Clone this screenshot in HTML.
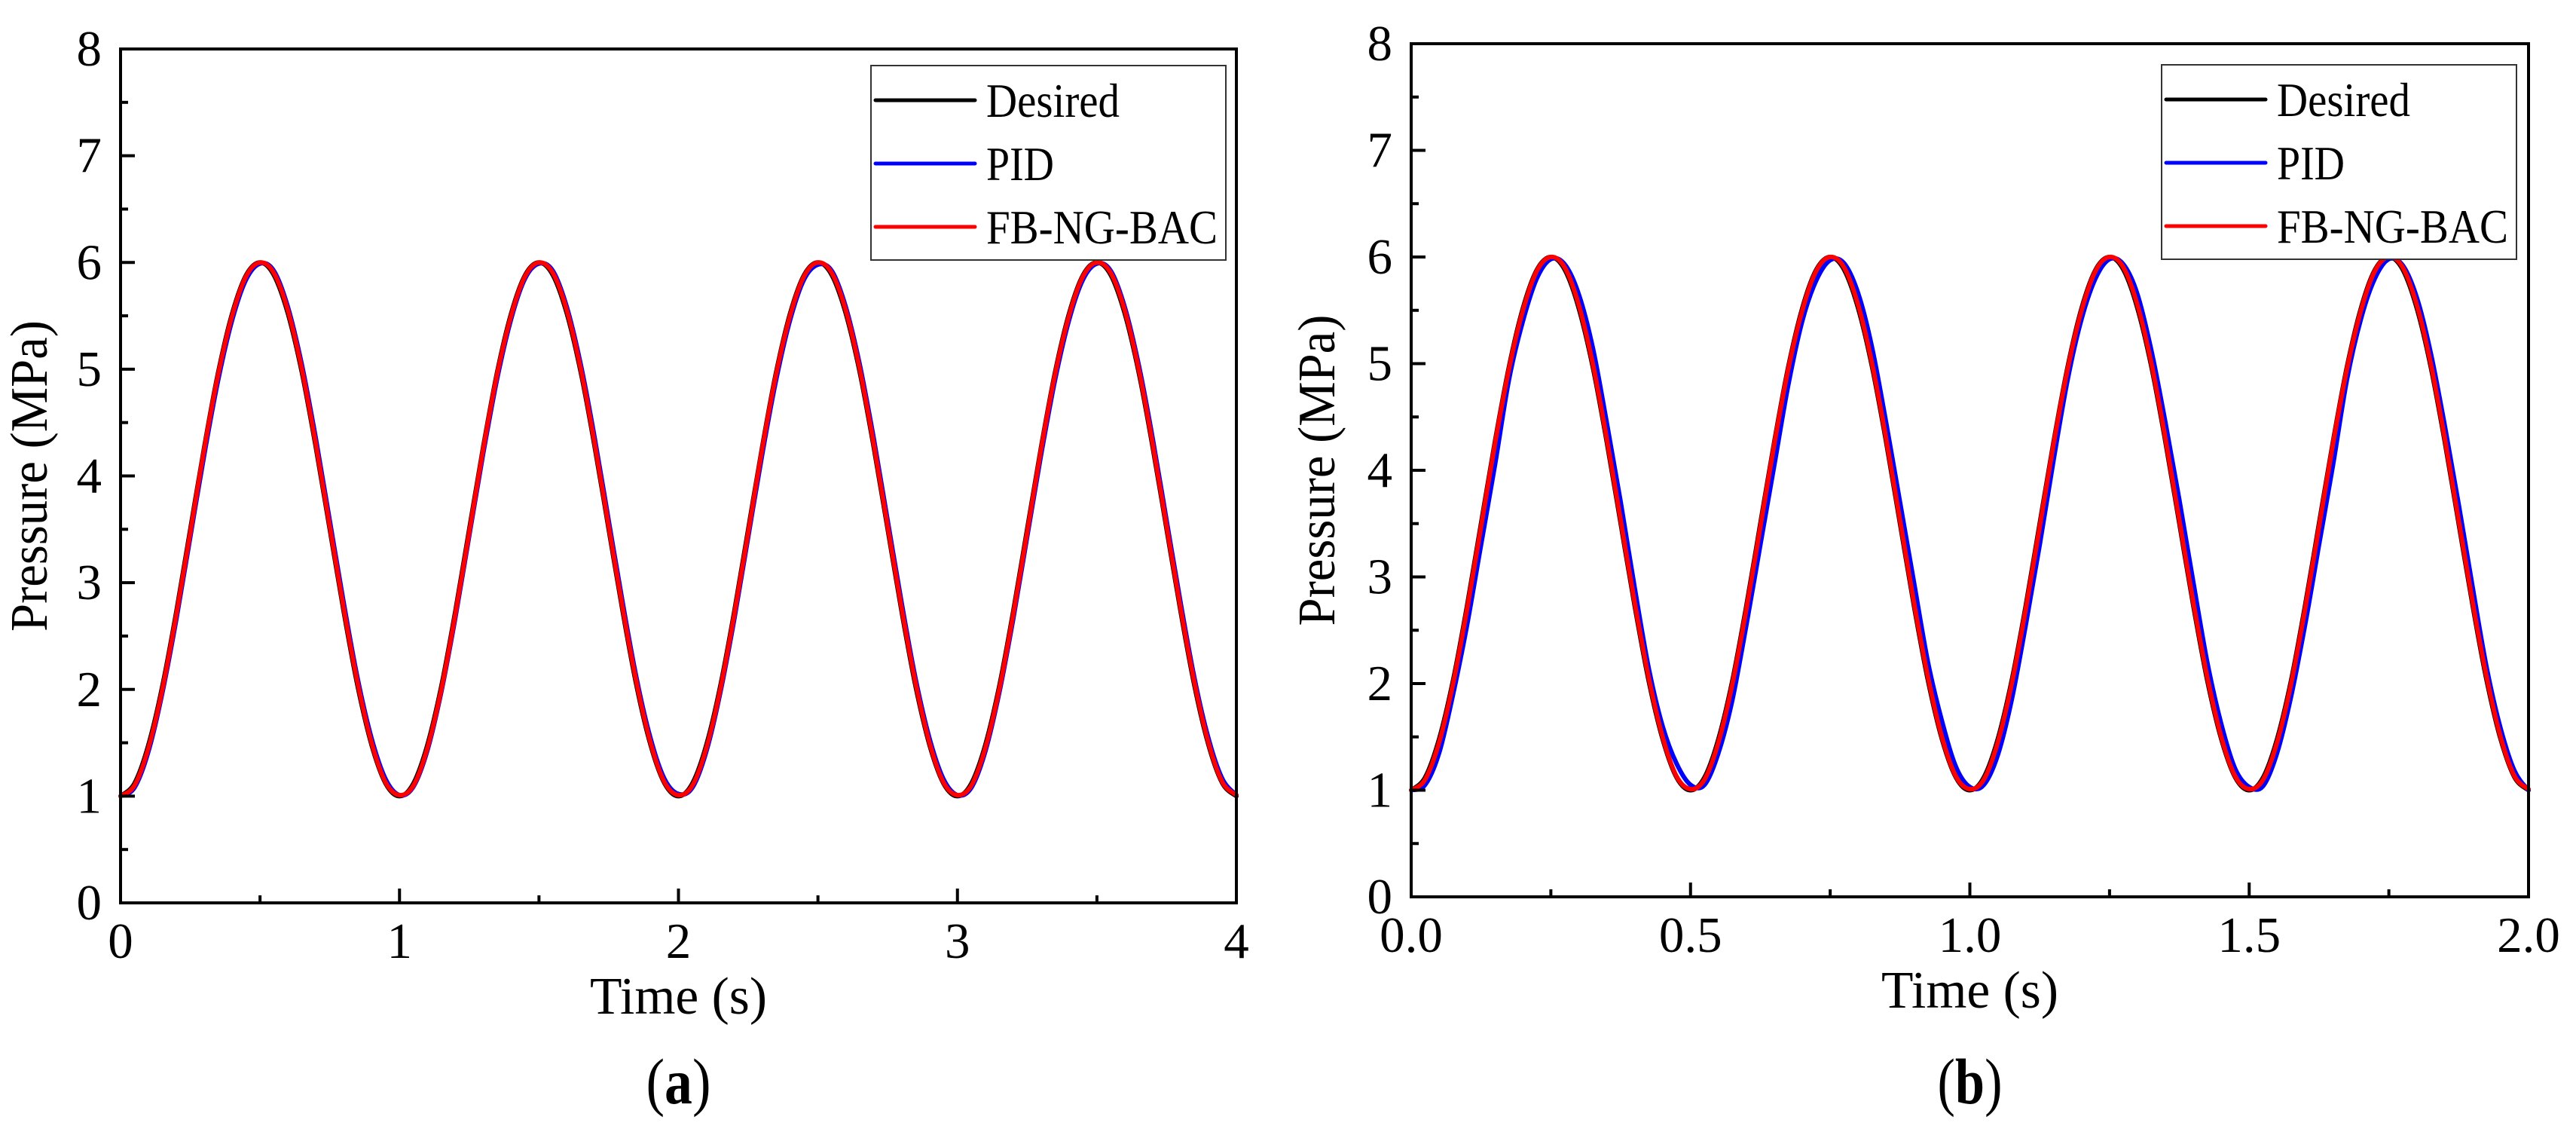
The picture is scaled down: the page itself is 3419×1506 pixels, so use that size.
<!DOCTYPE html>
<html><head><meta charset="utf-8"><style>
html,body{margin:0;padding:0;background:#fff;}
svg{display:block;}
text{font-family:"Liberation Serif",serif;fill:#000;}
</style></head><body>
<svg id="fig" width="3419" height="1506" viewBox="0 0 3419 1506"></svg>
<script>
// ---- data (a): time 0..4 s, step 0.05 ----
const timeStepA = 0.05;
const desiredA = [1,1.12,1.48,2.03,2.73,3.5,4.27,4.97,5.52,5.88,6,5.88,5.52,4.97,4.27,3.5,2.73,2.03,1.48,1.12,
1,1.12,1.48,2.03,2.73,3.5,4.27,4.97,5.52,5.88,6,5.88,5.52,4.97,4.27,3.5,2.73,2.03,1.48,1.12,
1,1.12,1.48,2.03,2.73,3.5,4.27,4.97,5.52,5.88,6,5.88,5.52,4.97,4.27,3.5,2.73,2.03,1.48,1.12,
1,1.12,1.48,2.03,2.73,3.5,4.27,4.97,5.52,5.88,6,5.88,5.52,4.97,4.27,3.5,2.73,2.03,1.48,1.12,1];
const pidA = [1,1.08,1.42,1.97,2.66,3.43,4.2,4.9,5.46,5.84,5.99,5.92,5.58,5.04,4.35,3.58,2.81,2.1,1.54,1.16,
1.01,1.09,1.43,1.98,2.67,3.44,4.21,4.91,5.47,5.85,5.99,5.92,5.58,5.04,4.35,3.58,2.81,2.1,1.54,1.16,
1.02,1.08,1.42,1.97,2.66,3.43,4.2,4.9,5.46,5.84,5.98,5.92,5.58,5.04,4.35,3.58,2.81,2.1,1.54,1.16,
1.01,1.08,1.42,1.97,2.66,3.43,4.2,4.9,5.46,5.84,5.99,5.92,5.58,5.04,4.35,3.58,2.81,2.1,1.54,1.16,1.01];
const fbA = [1,1.1,1.45,2.0,2.7,3.47,4.25,4.95,5.5,5.87,6,5.9,5.55,5.0,4.3,3.53,2.76,2.06,1.5,1.13,
1.01,1.1,1.45,2.0,2.7,3.47,4.25,4.95,5.5,5.87,6,5.9,5.55,5.0,4.3,3.53,2.76,2.06,1.5,1.13,
1.01,1.1,1.45,2.0,2.7,3.47,4.25,4.95,5.5,5.87,6,5.9,5.55,5.0,4.3,3.53,2.76,2.06,1.5,1.13,
1.01,1.1,1.45,2.0,2.7,3.47,4.25,4.95,5.5,5.87,6,5.9,5.55,5.0,4.3,3.53,2.76,2.06,1.5,1.13,1.01];
// ---- data (b): time 0..2 s, step 0.025 ----
const timeStepB = 0.025;
const desiredB = desiredA.slice();
const pidB = [1,1.05,1.35,1.9,2.55,3.3,4.05,4.85,5.4,5.8,5.98,5.93,5.65,5.15,4.45,3.7,2.9,2.15,1.6,1.25,
1.05,1.05,1.35,1.85,2.55,3.3,4.05,4.8,5.4,5.78,5.97,5.94,5.66,5.15,4.45,3.7,2.95,2.2,1.65,1.22,
1.03,1.05,1.33,1.85,2.55,3.3,4.1,4.85,5.42,5.8,5.98,5.93,5.65,5.12,4.45,3.72,2.95,2.2,1.62,1.2,
1.03,1.04,1.35,1.88,2.55,3.3,4.05,4.85,5.42,5.8,5.98,5.92,5.62,5.1,4.42,3.68,2.9,2.15,1.58,1.18,1];
const fbB = fbA.slice();
const yTicks = [0,1,2,3,4,5,6,7,8];
const xTicksA = [0,1,2,3,4];
const xTickLabelsA = ["0","1","2","3","4"];
const xTicksB = [0,0.5,1.0,1.5,2.0];
const xTickLabelsB = ["0.0","0.5","1.0","1.5","2.0"];
const seriesNames = ["Desired","PID","FB-NG-BAC"];
const seriesColors = ["#000000","#0000ff","#ff0000"];
const legendTextLen = [177,90,307];

const NS="http://www.w3.org/2000/svg";
const svg=document.getElementById('fig');
function mk(tag,attrs,parent){const e=document.createElementNS(NS,tag);for(const k in attrs)e.setAttribute(k,attrs[k]);(parent||svg).appendChild(e);return e;}
function smoothPath(pts){
  let d="M"+pts[0][0].toFixed(1)+","+pts[0][1].toFixed(1);
  for(let i=0;i<pts.length-1;i++){
    const p0=pts[Math.max(0,i-1)],p1=pts[i],p2=pts[i+1],p3=pts[Math.min(pts.length-1,i+2)];
    const c1x=p1[0]+(p2[0]-p0[0])/6,c1y=p1[1]+(p2[1]-p0[1])/6;
    const c2x=p2[0]-(p3[0]-p1[0])/6,c2y=p2[1]-(p3[1]-p1[1])/6;
    d+=" C"+c1x.toFixed(1)+","+c1y.toFixed(1)+" "+c2x.toFixed(1)+","+c2y.toFixed(1)+" "+p2[0].toFixed(1)+","+p2[1].toFixed(1);
  }
  return d;
}
function panel(cfg){
  const g=mk('g',{});
  
  
  const L=cfg.L,R=cfg.R,T=cfg.T,B=cfg.B;
  const xs=v=>L+(v-cfg.xmin)/(cfg.xmax-cfg.xmin)*(R-L);
  const ys=v=>B-(v-0)/(8-0)*(B-T);
  const data=[cfg.desired,cfg.pid,cfg.fb];
  data.forEach((arr,si)=>{
    const pts=arr.map((v,i)=>[xs(i*cfg.step),ys(v)]);
    const p=mk('path',{d:smoothPath(pts),fill:'none',stroke:seriesColors[si],'stroke-width':6,'stroke-linejoin':'round','stroke-linecap':'round'},g);
    
    
  });
  const fr=mk('rect',{x:L,y:T,width:R-L,height:B-T,fill:'none',stroke:'#000','stroke-width':4},g);
  
  
  yTicks.forEach(v=>{
    const y=ys(v);
    mk('line',{x1:L,y1:y,x2:L+19,y2:y,stroke:'#000','stroke-width':4},g);
    if(v<8){mk('line',{x1:L,y1:ys(v+0.5),x2:L+10,y2:ys(v+0.5),stroke:'#000','stroke-width':4},g);}
    const t=mk('text',{x:L-25,y:y+22,'font-size':67,'text-anchor':'end'},g);
    t.textContent=String(v);
    
    
  });
  cfg.xTicks.forEach((v,i)=>{
    const x=xs(v);
    mk('line',{x1:x,y1:B,x2:x,y2:B-19,stroke:'#000','stroke-width':4},g);
    if(i<cfg.xTicks.length-1){const xm=xs((v+cfg.xTicks[i+1])/2);mk('line',{x1:xm,y1:B,x2:xm,y2:B-10,stroke:'#000','stroke-width':4},g);}
    const t=mk('text',{x:x,y:B+73,'font-size':67,'text-anchor':'middle'},g);
    t.textContent=cfg.xTickLabels[i];
    
    
  });
  const xt=mk('text',{x:(L+R)/2,y:B+147,'font-size':70,'text-anchor':'middle','xml:space':'preserve',textLength:235,lengthAdjust:'spacingAndGlyphs'},g);
  xt.textContent="Time  (s)";
  
  
  const yt=mk('text',{x:0,y:0,'font-size':70,'text-anchor':'middle',textLength:413,lengthAdjust:'spacingAndGlyphs',transform:`translate(${cfg.ytx},${(T+B)/2}) rotate(-90)`},g);
  yt.textContent="Pressure (MPa)";
  
  
  const lg=mk('g',{},g);
  
  
  mk('rect',{x:cfg.lx,y:cfg.ly,width:471,height:258,fill:'#fff',stroke:'#333','stroke-width':2},lg);
  seriesNames.forEach((n,i)=>{
    const y=cfg.ly+46+i*84;
    const ln=mk('line',{x1:cfg.lx+6,y1:y,x2:cfg.lx+138,y2:y,stroke:seriesColors[i],'stroke-width':5,'stroke-linecap':'round'},lg);
    
    
    const t=mk('text',{x:cfg.lx+153,y:y+22,'font-size':64,textLength:legendTextLen[i],lengthAdjust:'spacingAndGlyphs'},lg);
    t.textContent=n;
    
    
  });
  const cap=mk('text',{x:(L+R)/2,y:1464,'font-size':86,'text-anchor':'middle',textLength:86,lengthAdjust:'spacingAndGlyphs'},g);
  cap.innerHTML='(<tspan font-weight="bold">'+cfg.cap+'</tspan>)';
  
  
}
panel({name:'chart-a',L:160,R:1641,T:65,B:1198,xmin:0,xmax:4,step:timeStepA,desired:desiredA,pid:pidA,fb:fbA,xTicks:xTicksA,xTickLabels:xTickLabelsA,ytx:62,lx:1156,ly:87,cap:'a'});
panel({name:'chart-b',L:1873,R:3356,T:58,B:1190,xmin:0,xmax:2,step:timeStepB,desired:desiredB,pid:pidB,fb:fbB,xTicks:xTicksB,xTickLabels:xTickLabelsB,ytx:1771,lx:2869,ly:86,cap:'b'});
</script>
</body></html>
